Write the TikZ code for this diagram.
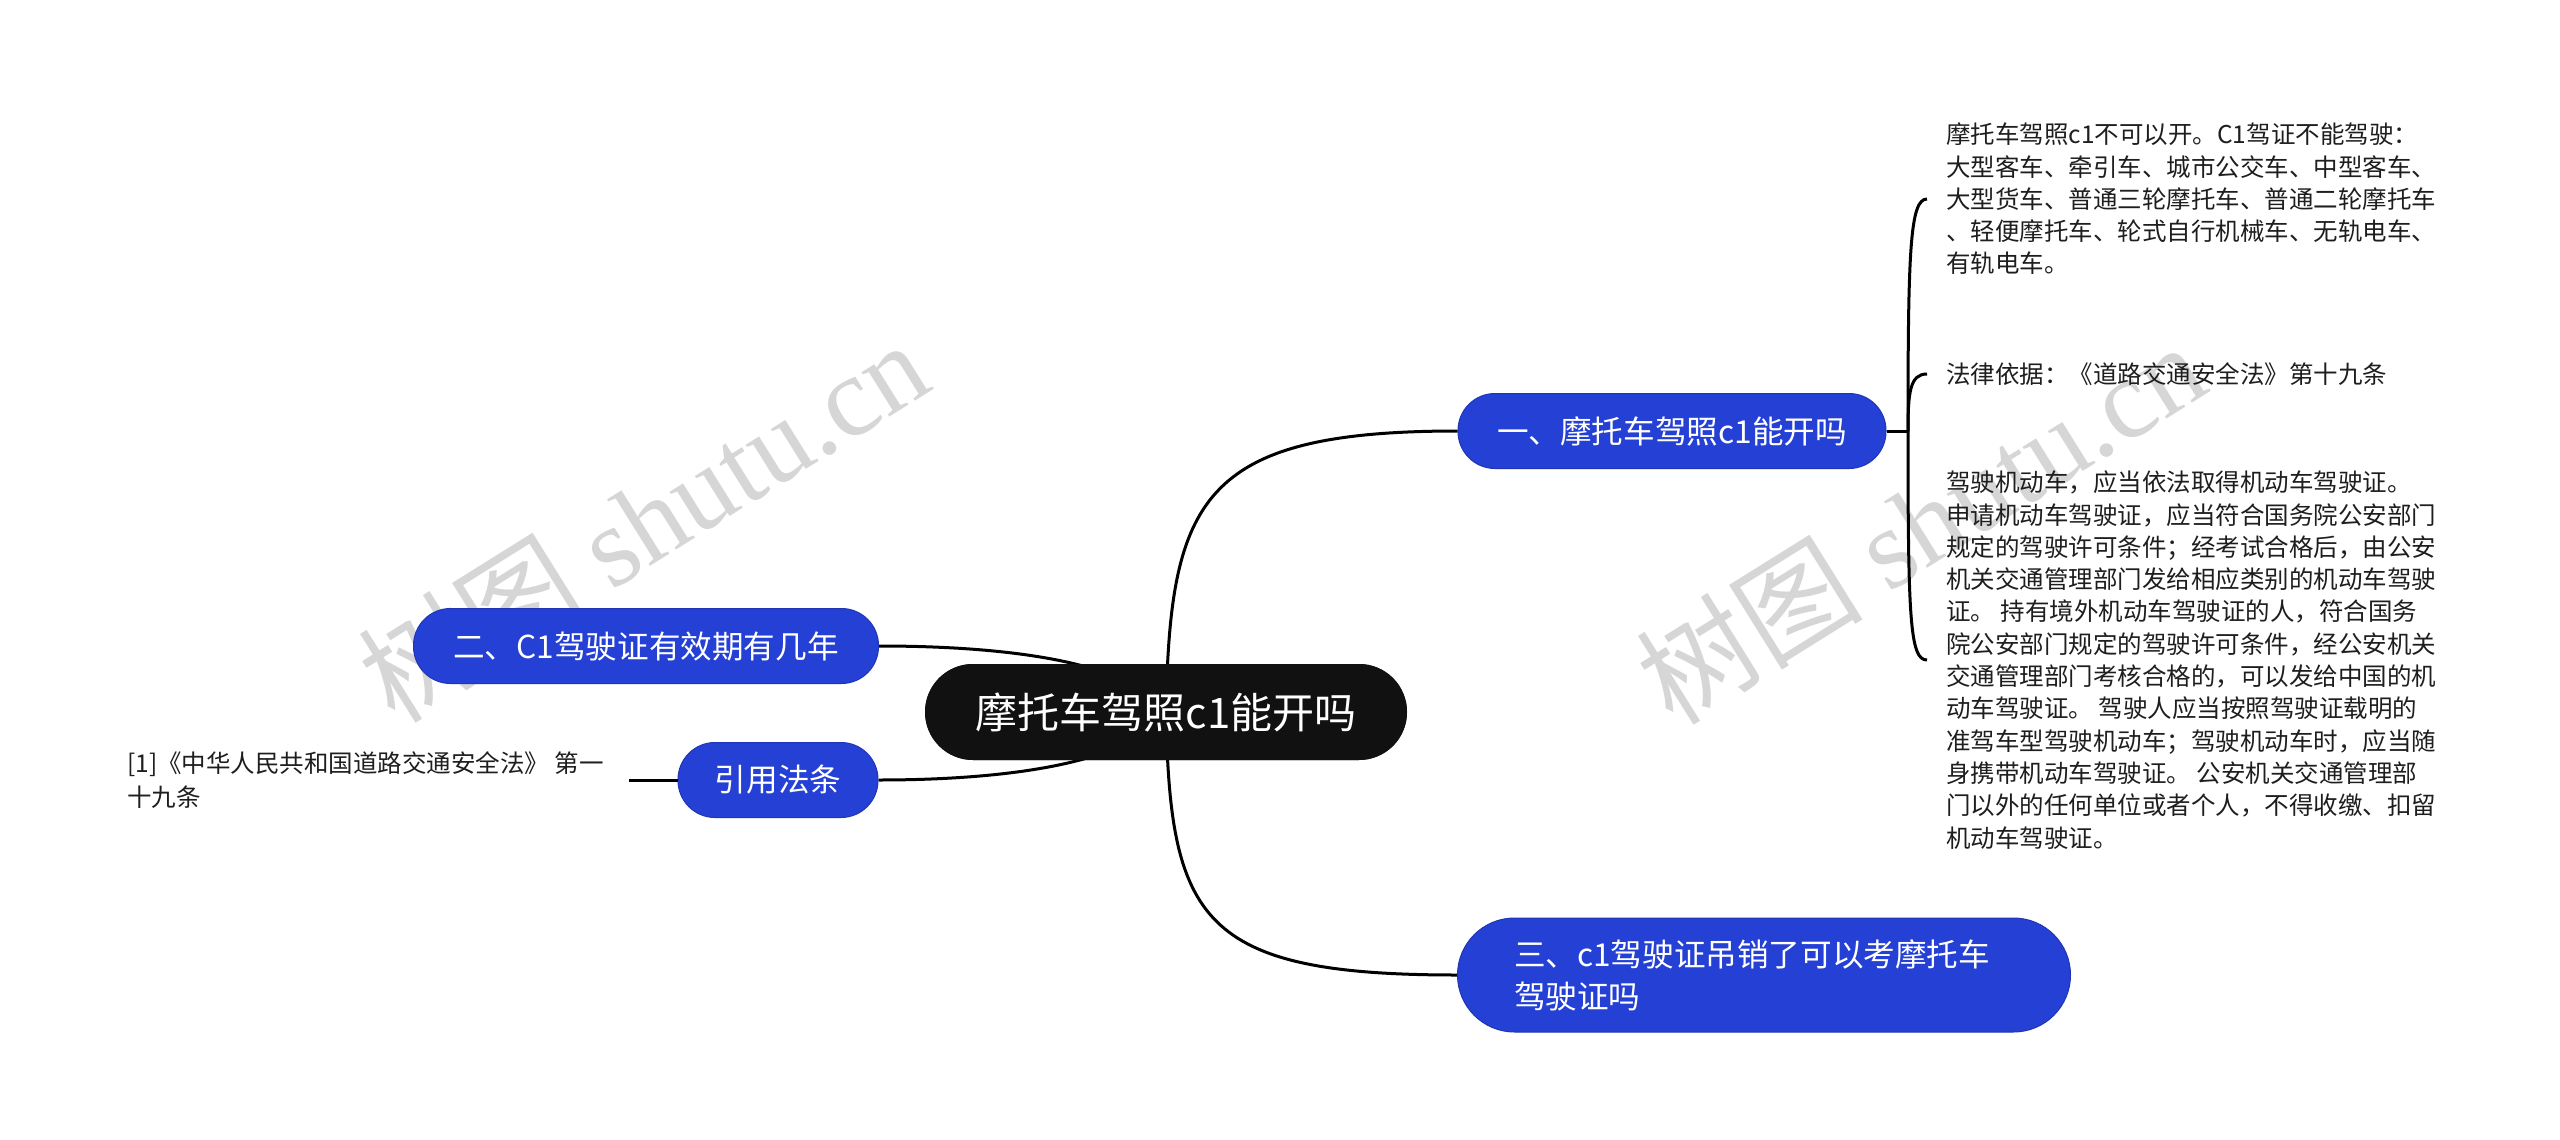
\documentclass[tikz,border=0pt]{standalone}
\usepackage{fontspec}
\setmainfont{Noto Sans CJK SC}
\newfontfamily\wmlatin{Liberation Serif}
\definecolor{bblue}{RGB}{37,64,212}
\definecolor{rootc}{RGB}{17,17,17}
\definecolor{wmc}{RGB}{214,214,214}
\definecolor{leafc}{RGB}{30,30,30}
\begin{document}
\begin{tikzpicture}[x=1pt,y=-1pt,
  conn/.style={line width=3pt, black},
  rootbox/.style={fill=rootc, text=white, rounded corners=48pt, minimum width=482pt, minimum height=96pt, inner sep=0pt, font=\fontsize{42}{50}\selectfont},
  branchbox/.style={fill=bblue, draw=bblue!85!black, line width=1pt, text=white, rounded corners=37pt, minimum height=75pt, inner sep=0pt, font=\fontsize{31.6}{42}\selectfont},
  leaf/.style={anchor=west, align=left, inner xsep=19pt, inner ysep=0pt, text=leafc, font=\fontsize{24.5}{32.3}\selectfont},
  wmark/.style={text=wmc, rotate=32, inner sep=0pt, font=\fontsize{114}{120}\selectfont}
]
\useasboundingbox[fill=white] (0,0) rectangle (2560,1140);

% watermarks
\node[wmark] (wm1) at (643,520) {树图 {\wmlatin shutu.cn}};
\node[wmark] (wm2) at (1920,522) {树图 {\wmlatin shutu.cn}};

\coordinate (rc) at (1166,712);
\coordinate (j1) at (1908,431);

\node[rootbox] (root) at (1166,712) {摩托车驾照c1能开吗};
\node[branchbox, minimum width=428pt] (b1) at (1672,431) {一、摩托车驾照c1能开吗};
\node[branchbox, minimum width=465pt] (b2) at (646,646) {二、C1驾驶证有效期有几年};
\node[branchbox, minimum width=200pt] (b4) at (778,780) {引用法条};
\node[branchbox, minimum width=613pt, minimum height=114pt, rounded corners=57pt, text width=500pt, align=left] (b3) at (1764,975) {三、c1驾驶证吊销了可以考摩托车\\驾驶证吗};

\node[leaf] (c1) at (1927,199) {摩托车驾照c1不可以开。C1驾证不能驾驶：\\大型客车、牵引车、城市公交车、中型客车、\\大型货车、普通三轮摩托车、普通二轮摩托车\\、轻便摩托车、轮式自行机械车、无轨电车、\\有轨电车。};
\node[leaf] (c2) at (1927,374) {法律依据：《道路交通安全法》第十九条};
\node[leaf] (c3) at (1927,660) {驾驶机动车，应当依法取得机动车驾驶证。\\申请机动车驾驶证，应当符合国务院公安部门\\规定的驾驶许可条件；经考试合格后，由公安\\机关交通管理部门发给相应类别的机动车驾驶\\证。 持有境外机动车驾驶证的人，符合国务\\院公安部门规定的驾驶许可条件，经公安机关\\交通管理部门考核合格的，可以发给中国的机\\动车驾驶证。 驾驶人应当按照驾驶证载明的\\准驾车型驾驶机动车；驾驶机动车时，应当随\\身携带机动车驾驶证。 公安机关交通管理部\\门以外的任何单位或者个人，不得收缴、扣留\\机动车驾驶证。};
\node[anchor=east, align=left, inner xsep=25pt, inner ysep=0pt, text=leafc, font=\fontsize{24.5}{34}\selectfont] (law) at (629,780) {[1]《中华人民共和国道路交通安全法》 第一\\十九条};

% connectors
\draw[conn] (b1.east) -- (j1);
\draw[conn] (j1) .. controls (1908,250) and (1910,199) .. (c1.west);
\draw[conn] (j1) .. controls (1908,392) and (1910,374) .. (c2.west);
\draw[conn] (j1) .. controls (1908,620) and (1910,660) .. (c3.west);
\draw[conn] (b4.west) -- (law.east);

% root connectors drawn, then root redrawn on top
\draw[conn] (rc) .. controls (1170,500) and (1200,431) .. (b1.west);
\draw[conn] (rc) .. controls (1170,920) and (1200,975) .. (b3.west);
\draw[conn] (rc) .. controls (1130,660) and (1000,646) .. (b2.east);
\draw[conn] (rc) .. controls (1130,765) and (1000,780) .. (b4.east);
\node[rootbox] (root2) at (root.center) {摩托车驾照c1能开吗};
\end{tikzpicture}
\end{document}
